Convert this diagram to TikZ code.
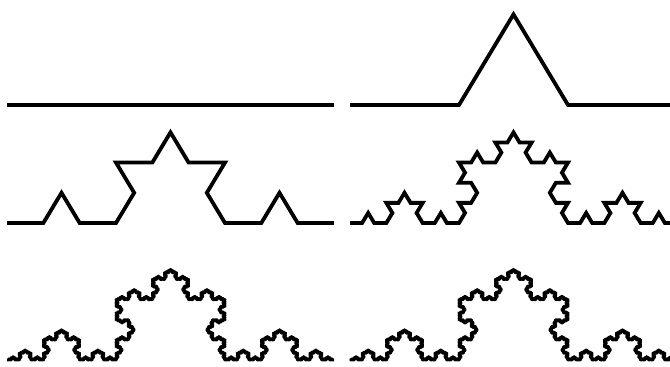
\documentclass[tikz,border=0pt]{standalone}
\usetikzlibrary{lindenmayersystems}
\pgfdeclarelindenmayersystem{koch}{\rule{F -> F+F--F+F}}
\tikzset{kochline/.style={draw=black, line width=3.8pt, line join=miter, line cap=butt},
  finekoch/.style={line width=2.9pt, line join=round}}
\begin{document}
\begin{tikzpicture}[x=1pt,y=1pt]
\useasboundingbox (0,0) rectangle (670,367);
\coordinate (s0) at (7,262);
\coordinate (s1) at (350,262);
\coordinate (s2) at (7,144);
\coordinate (s3) at (350,144);
\coordinate (s4) at (7,7);
\coordinate (s5) at (350,7);
\foreach \i/\n/\st/\sty in {0/0/327pt/kochline,1/1/109pt/kochline,2/2/36.333pt/kochline,3/3/12.111pt/kochline,4/5/1.3457pt/finekoch,5/6/0.44856pt/finekoch}{
  \begin{scope}[shift={(s\i)},yscale=0.96]
    \draw[kochline, \sty, l-system={koch, axiom=F, order=\n, step=\st, angle=60}] (0,0) l-system;
  \end{scope}
}
\end{tikzpicture}
\end{document}
